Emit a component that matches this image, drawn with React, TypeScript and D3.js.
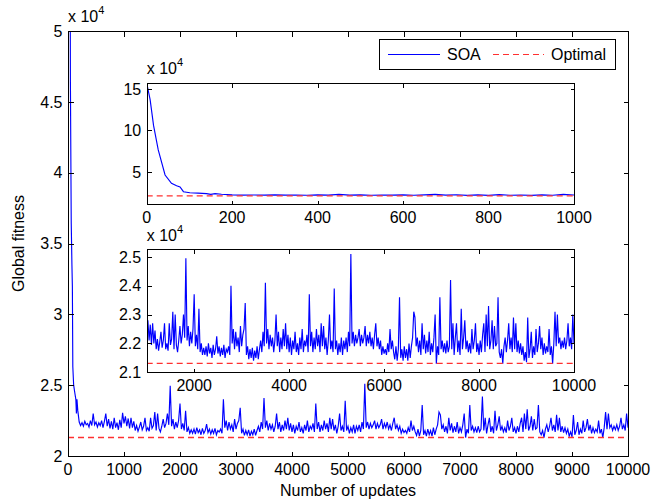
import React from "react";
import * as d3 from "d3";

// ---------- data (fitness in units of 10^4) ----------
const earlyUpdates = [0, 8, 16, 27, 43, 58, 70, 78, 86, 101, 120, 140, 150, 160, 175];
const earlyFitness = [15.7, 13.7, 10.6, 7.65, 4.64, 3.64, 3.35, 3.2, 2.63, 2.5, 2.45, 2.4, 2.3, 2.4, 2.32];

// sampled every 25 updates from 200 to 10000
const sampledStart = 200;
const sampledStep = 25;
const sampledFitness = [
  2.24, 2.215, 2.235, 2.21, 2.245, 2.22, 2.23, 2.205, 2.25, 2.215, 2.30, 2.22, 2.24, 2.205, 2.235, 2.215, 2.25, 2.20, 2.245, 2.30,
  2.21, 2.26, 2.195, 2.245, 2.19, 2.27, 2.20, 2.235, 2.185, 2.255, 2.20, 2.305, 2.23, 2.28, 2.21, 2.265, 2.195, 2.27, 2.20, 2.245,
  2.18, 2.215, 2.175, 2.205, 2.24, 2.185, 2.21, 2.27, 2.18, 2.20, 2.175, 2.27, 2.195, 2.215, 2.31, 2.18, 2.30, 2.195, 2.17, 2.21,
  2.26, 2.20, 2.23, 2.30, 2.22, 2.495, 2.21, 2.26, 2.19, 2.24, 2.20, 2.25, 2.37, 2.19, 2.23, 2.18, 2.32, 2.17, 2.20, 2.16,
  2.185, 2.16, 2.19, 2.155, 2.20, 2.165, 2.185, 2.15, 2.195, 2.16, 2.18, 2.225, 2.165, 2.19, 2.155, 2.185, 2.16, 2.195, 2.15, 2.18,
  2.17, 2.19, 2.16, 2.40, 2.20, 2.25, 2.18, 2.24, 2.19, 2.22, 2.17, 2.26, 2.19, 2.23, 2.25, 2.34, 2.16, 2.19, 2.145, 2.18,
  2.15, 2.185, 2.14, 2.175, 2.15, 2.19, 2.145, 2.18, 2.21, 2.17, 2.24, 2.19, 2.41, 2.20, 2.25, 2.18, 2.23, 2.19, 2.22, 2.17,
  2.21, 2.30, 2.19, 2.24, 2.17, 2.22, 2.18, 2.25, 2.19, 2.27, 2.18, 2.23, 2.17, 2.22, 2.16, 2.21, 2.18, 2.24, 2.17, 2.20,
  2.16, 2.22, 2.18, 2.25, 2.17, 2.21, 2.19, 2.23, 2.17, 2.37, 2.19, 2.24, 2.17, 2.22, 2.18, 2.25, 2.19, 2.23, 2.17, 2.27,
  2.19, 2.26, 2.18, 2.22, 2.16, 2.21, 2.30, 2.18, 2.21, 2.17, 2.39, 2.18, 2.21, 2.16, 2.20, 2.17, 2.22, 2.16, 2.21, 2.18,
  2.22, 2.17, 2.24, 2.19, 2.51, 2.20, 2.24, 2.19, 2.23, 2.20, 2.22, 2.25, 2.19, 2.23, 2.20, 2.22, 2.26, 2.19, 2.23, 2.20,
  2.24, 2.19, 2.22, 2.18, 2.23, 2.27, 2.19, 2.22, 2.18, 2.21, 2.16, 2.19, 2.165, 2.18, 2.16, 2.20, 2.17, 2.25, 2.18, 2.21,
  2.17, 2.145, 2.19, 2.14, 2.18, 2.36, 2.15, 2.18, 2.14, 2.19, 2.15, 2.18, 2.14, 2.20, 2.15, 2.19, 2.22, 2.31, 2.29, 2.19,
  2.22, 2.17, 2.21, 2.16, 2.27, 2.18, 2.23, 2.165, 2.21, 2.17, 2.24, 2.16, 2.20, 2.17, 2.22, 2.30, 2.13, 2.19, 2.16, 2.36,
  2.18, 2.21, 2.17, 2.20, 2.165, 2.21, 2.17, 2.19, 2.42, 2.18, 2.27, 2.16, 2.22, 2.27, 2.17, 2.21, 2.16, 2.32, 2.18, 2.22,
  2.28, 2.18, 2.21, 2.17, 2.20, 2.165, 2.25, 2.18, 2.21, 2.27, 2.17, 2.20, 2.16, 2.21, 2.17, 2.23, 2.27, 2.17, 2.30, 2.19,
  2.33, 2.18, 2.21, 2.28, 2.18, 2.26, 2.19, 2.20, 2.36, 2.17, 2.15, 2.18, 2.13, 2.19, 2.22, 2.17, 2.21, 2.27, 2.18, 2.22,
  2.17, 2.29, 2.18, 2.27, 2.17, 2.21, 2.165, 2.20, 2.16, 2.19, 2.14, 2.17, 2.135, 2.29, 2.15, 2.18, 2.24, 2.15, 2.19, 2.16,
  2.25, 2.17, 2.20, 2.26, 2.18, 2.22, 2.16, 2.20, 2.165, 2.19, 2.17, 2.25, 2.16, 2.19, 2.13, 2.20, 2.31, 2.19, 2.30, 2.20,
  2.22, 2.18, 2.21, 2.185, 2.22, 2.18, 2.21, 2.27, 2.19, 2.22, 2.18, 2.30, 2.20,
];
const optimalFitness = 2.131;

const mainXTicks = [0, 1000, 2000, 3000, 4000, 5000, 6000, 7000, 8000, 9000, 10000];
const mainYTicks = [2, 2.5, 3, 3.5, 4, 4.5, 5];
const inset1XTicks = [0, 200, 400, 600, 800, 1000];
const inset1YTicks = [5, 10, 15];
const inset2XTicks = [2000, 4000, 6000, 8000, 10000];
const inset2YTicks = [2.1, 2.2, 2.3, 2.4, 2.5];
const legendLabels = ["SOA", "Optimal"];
const xTitle = "Number of updates";
const yTitle = "Global fitness";

type Pt = { u: number; v: number };
const series: Pt[] = [
  ...earlyUpdates.map((u, i) => ({ u, v: earlyFitness[i] })),
  ...sampledFitness.map((v, i) => ({ u: sampledStart + i * sampledStep, v })),
];

const FONT = "'Liberation Sans', Arial, Helvetica, sans-serif";
const FS = 16;
const BLUE = "#0000ff";
const RED = "#ff3030";
const DASH = "6,4";
const snap = (v: number) => Math.round(v) + 0.5;

type AxesProps = {
  id: string;
  x: d3.ScaleLinear<number, number>;
  y: d3.ScaleLinear<number, number>;
  xTicks: number[];
  yTicks: number[];
  tickLen: number;
  white?: boolean;
  expY: number;
};

function Axes({ id, x, y, xTicks, yTicks, tickLen, white, expY }: AxesProps) {
  const [rx0, rx1] = x.range();
  const [ry0, ry1] = y.range(); // bottom, top
  const x0 = snap(rx0), x1 = snap(rx1), y0 = snap(ry0), y1 = snap(ry1);
  const line = d3
    .line<Pt>()
    .x((d) => x(d.u))
    .y((d) => y(d.v));
  const [dx0, dx1] = x.domain();
  const oy = y(optimalFitness);
  return (
    <g>
      <defs>
        <clipPath id={id}>
          <rect x={x0} y={y1} width={x1 - x0} height={y0 - y1} />
        </clipPath>
      </defs>
      {white && <rect x={x0} y={y1} width={x1 - x0} height={y0 - y1} fill="#fff" />}
      <g clipPath={`url(#${id})`}>
        <path d={line(series) ?? ""} fill="none" stroke={BLUE} strokeWidth={1.15} strokeLinejoin="miter" />
        <line
          x1={x(dx0)}
          x2={x(dx1)}
          y1={oy}
          y2={oy}
          stroke={RED}
          strokeWidth={1.4}
          strokeDasharray={DASH}
        />
      </g>
      <g shapeRendering="crispEdges" stroke="#000" strokeWidth={1}>
        <rect x={x0} y={y1} width={x1 - x0} height={y0 - y1} fill="none" />
        {xTicks.map((t) => (
          <g key={"xt" + t}>
            <line x1={snap(x(t))} x2={snap(x(t))} y1={y0} y2={y0 - tickLen} />
            <line x1={snap(x(t))} x2={snap(x(t))} y1={y1} y2={y1 + tickLen} />
          </g>
        ))}
        {yTicks.map((t) => (
          <g key={"yt" + t}>
            <line x1={x0} x2={x0 + tickLen} y1={snap(y(t))} y2={snap(y(t))} />
            <line x1={x1} x2={x1 - tickLen} y1={snap(y(t))} y2={snap(y(t))} />
          </g>
        ))}
      </g>
      {xTicks.map((t) => (
        <text key={"xl" + t} x={x(t)} y={ry0 + 19} textAnchor="middle" fontSize={FS} fontFamily={FONT}>
          {String(t)}
        </text>
      ))}
      {yTicks.map((t) => (
        <text key={"yl" + t} x={rx0 - 5.5} y={y(t)} dy="0.36em" textAnchor="end" fontSize={FS} fontFamily={FONT}>
          {String(t)}
        </text>
      ))}
      <text x={rx0} y={expY} fontSize={FS} fontFamily={FONT}>
        {"x 10"}
        <tspan dy={-8} fontSize={11}>
          4
        </tspan>
      </text>
    </g>
  );
}

export default function App() {
  const W = 652;
  const H = 503;

  const mainX = d3.scaleLinear().domain([0, 10000]).range([68, 628]);
  const mainY = d3.scaleLinear().domain([2, 5]).range([456, 31]);

  const in1X = d3.scaleLinear().domain([0, 1000]).range([146.7, 574]);
  const in1Y = d3.scaleLinear().domain([1.15, 15.7]).range([204, 83]);

  const in2X = d3.scaleLinear().domain([1000, 10000]).range([146.7, 574]);
  const in2Y = d3.scaleLinear().domain([2.1, 2.526]).range([372.3, 249.3]);

  return (
    <svg width={W} height={H} style={{ position: "absolute", left: 0, top: 0, background: "#fff" }}>
      <rect x={0} y={0} width={W} height={H} fill="#fff" />
      <Axes id="clipMain" x={mainX} y={mainY} xTicks={mainXTicks} yTicks={mainYTicks} tickLen={5} expY={22} />
      <Axes id="clipIn1" x={in1X} y={in1Y} xTicks={inset1XTicks} yTicks={inset1YTicks} tickLen={4} white expY={74} />
      <Axes id="clipIn2" x={in2X} y={in2Y} xTicks={inset2XTicks} yTicks={inset2YTicks} tickLen={4} white expY={240.7} />

      <text x={348} y={496} textAnchor="middle" fontSize={FS} fontFamily={FONT}>
        {xTitle}
      </text>
      <text
        transform={`translate(24,${mainY(3.5)}) rotate(-90)`}
        textAnchor="middle"
        fontSize={FS}
        fontFamily={FONT}
      >
        {yTitle}
      </text>

      <g>
        <rect x={379.5} y={39.5} width={236} height={30} fill="#fff" stroke="#000" strokeWidth={1} shapeRendering="crispEdges" />
        <line x1={388} x2={440} y1={54.5} y2={54.5} stroke={BLUE} strokeWidth={1} />
        <text x={447} y={60} fontSize={FS} fontFamily={FONT}>
          {legendLabels[0]}
        </text>
        <line x1={493} x2={544} y1={54.5} y2={54.5} stroke={RED} strokeWidth={1.2} strokeDasharray={DASH} />
        <text x={551} y={60} fontSize={FS} fontFamily={FONT}>
          {legendLabels[1]}
        </text>
      </g>
    </svg>
  );
}
